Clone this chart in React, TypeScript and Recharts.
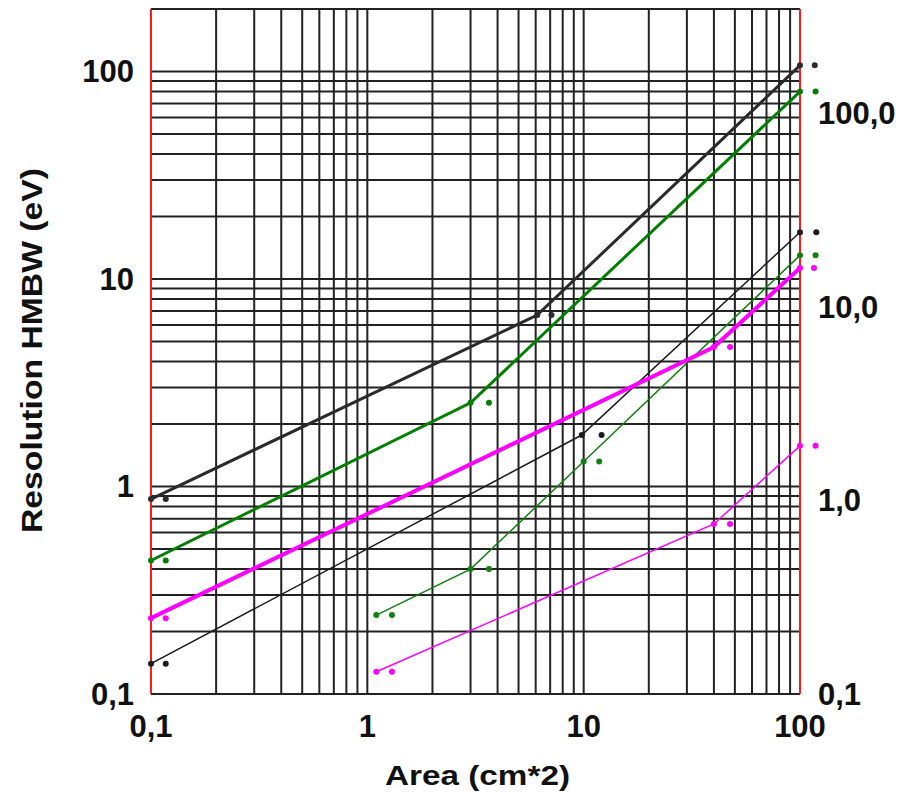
import {
  ComposedChart,
  Line,
  Scatter,
  XAxis,
  YAxis,
  CartesianGrid,
  ReferenceLine,
  Label,
} from 'recharts';

// axis ticks and labels
const xTicks = [0.1, 1, 10, 100];
const xTickLabels = ['0,1', '1', '10', '100'];
const leftTicks = [0.1, 1, 10, 100];
const leftTickLabels = ['0,1', '1', '10', '100'];
const rightTicks = [0.1, 1, 10, 100];
const rightTickLabels = ['0,1', '1,0', '10,0', '100,0'];

// log grid (major + minor lines)
const gridX = [
  0.1, 0.2, 0.3, 0.4, 0.5, 0.6, 0.7, 0.8, 0.9,
  1, 2, 3, 4, 5, 6, 7, 8, 9,
  10, 20, 30, 40, 50, 60, 70, 80, 90, 100,
];
const gridY = [
  0.1, 0.2, 0.3, 0.4, 0.5, 0.6, 0.7, 0.8, 0.9,
  1, 2, 3, 4, 5, 6, 7, 8, 9,
  10, 20, 30, 40, 50, 60, 70, 80, 90, 100, 200,
];

// series: area (cm*2) vs resolution (eV)
const blackThickX = [0.1, 6.1, 100];
const blackThickY = [0.87, 6.7, 107];
const blackThickDotX = [0.117, 7.1, 117];

const greenThickX = [0.1, 3, 100];
const greenThickY = [0.44, 2.53, 80];
const greenThickDotX = [0.117, 3.65, 118];

const magentaThickX = [0.1, 40, 100];
const magentaThickY = [0.232, 4.7, 11.3];
const magentaThickDotX = [0.117, 47.5, 116];

const blackThinX = [0.1, 9.8, 100];
const blackThinY = [0.14, 1.77, 16.8];
const blackThinDotX = [0.117, 12.1, 119];

const greenThinX = [1.1, 3, 10, 100];
const greenThinY = [0.24, 0.4, 1.32, 13];
const greenThinDotX = [1.3, 3.65, 11.8, 118];

const magentaThinX = [1.1, 40, 100];
const magentaThinY = [0.128, 0.66, 1.57];
const magentaThinDotX = [1.3, 47.5, 118];

const series = [
  { name: 'blackThin', xs: blackThinX, ys: blackThinY, dx: blackThinDotX, color: '#1a1a1a', width: 1.5 },
  { name: 'greenThin', xs: greenThinX, ys: greenThinY, dx: greenThinDotX, color: '#108010', width: 1.5 },
  { name: 'magentaThin', xs: magentaThinX, ys: magentaThinY, dx: magentaThinDotX, color: '#ff00ff', width: 1.5 },
  { name: 'blackThick', xs: blackThickX, ys: blackThickY, dx: blackThickDotX, color: '#2a2a2a', width: 3 },
  { name: 'greenThick', xs: greenThickX, ys: greenThickY, dx: greenThickDotX, color: '#008000', width: 3 },
  { name: 'magentaThick', xs: magentaThickX, ys: magentaThickY, dx: magentaThickDotX, color: '#ff00ff', width: 4 },
];

const FONT = '"Liberation Sans", Arial, sans-serif';

function XTick(props: any) {
  const { x, y, payload } = props;
  const label = xTickLabels[xTicks.indexOf(payload.value)];
  return (
    <text x={x} y={y + 43} textAnchor="middle" fontFamily={FONT} fontWeight="bold" fontSize={31} fill="#111">
      {label}
    </text>
  );
}

function LeftTick(props: any) {
  const { x, y, payload } = props;
  const label = leftTickLabels[leftTicks.indexOf(payload.value)];
  return (
    <text x={x - 17} y={y + 11} textAnchor="end" fontFamily={FONT} fontWeight="bold" fontSize={31} fill="#111">
      {label}
    </text>
  );
}

function RightTick(props: any) {
  const { x, y, payload } = props;
  const label = rightTickLabels[rightTicks.indexOf(payload.value)];
  return (
    <text x={x + 18} y={y + 11} textAnchor="start" fontFamily={FONT} fontWeight="bold" fontSize={31} fill="#111">
      {label}
    </text>
  );
}

const dotShape = (color: string) => (p: any) => <circle cx={p.cx} cy={p.cy} r={3} fill={color} />;

export default function App() {
  return (
    <div style={{ width: 904, height: 797, background: '#fff' }}>
      <style>{`
        body { margin: 0; }
        .recharts-surface * { clip-path: none !important; }
      `}</style>
      <ComposedChart width={904} height={797} margin={{ top: 9, right: 4, bottom: 43, left: 51 }}>
        <CartesianGrid
          horizontalValues={gridY}
          verticalValues={gridX}
          stroke="#222"
          strokeWidth={2}
          strokeDasharray=""
        />
        <XAxis
          type="number"
          dataKey="x"
          scale="log"
          domain={[0.1, 100]}
          allowDataOverflow
          ticks={xTicks}
          interval={0}
          axisLine={false}
          tickLine={false}
          tickSize={0}
          tickMargin={0}
          height={60}
          tick={<XTick />}
        >
          <Label
            content={(p: any) => {
              const vb = p.viewBox;
              return (
                <text
                  x={vb.x + vb.width / 2 + 2}
                  y={vb.y + 91}
                  textAnchor="middle"
                  fontFamily={FONT}
                  fontWeight="bold"
                  fontSize={28}
                  fill="#111"
                  textLength={185}
                  lengthAdjust="spacingAndGlyphs"
                >
                  Area (cm*2)
                </text>
              );
            }}
          />
        </XAxis>
        <YAxis
          type="number"
          dataKey="y"
          scale="log"
          domain={[0.1, 200]}
          allowDataOverflow
          ticks={leftTicks}
          interval={0}
          axisLine={false}
          tickLine={false}
          tickSize={0}
          tickMargin={0}
          width={100}
          tick={<LeftTick />}
        >
          <Label
            content={(p: any) => {
              const vb = p.viewBox;
              const cy = vb.y + vb.height / 2 - 1;
              return (
                <text
                  x={42}
                  y={cy}
                  transform={`rotate(-90, 42, ${cy})`}
                  textAnchor="middle"
                  fontFamily={FONT}
                  fontWeight="bold"
                  fontSize={30}
                  fill="#111"
                  textLength={365}
                  lengthAdjust="spacingAndGlyphs"
                >
                  Resolution HMBW (eV)
                </text>
              );
            }}
          />
        </YAxis>
        <YAxis
          yAxisId="right"
          orientation="right"
          type="number"
          scale="log"
          domain={[0.1, 345]}
          allowDataOverflow
          ticks={rightTicks}
          interval={0}
          axisLine={false}
          tickLine={false}
          tickSize={0}
          tickMargin={0}
          width={100}
          tick={<RightTick />}
        />
        <ReferenceLine x={0.1} stroke="#ff1a1a" strokeWidth={2} />
        <ReferenceLine x={100} stroke="#ff1a1a" strokeWidth={2} />
        {series.map((s) => (
          <Line
            key={s.name}
            data={s.xs.map((x, i) => ({ x, y: s.ys[i] }))}
            dataKey="y"
            type="linear"
            stroke={s.color}
            strokeWidth={s.width}
            dot={false}
            activeDot={false}
            isAnimationActive={false}
          />
        ))}
        {series.map((s) => (
          <Scatter
            key={s.name + '-pts'}
            data={s.xs.map((x, i) => ({ x, y: s.ys[i] }))}
            dataKey="y"
            shape={dotShape(s.color)}
            isAnimationActive={false}
          />
        ))}
        {series.map((s) => (
          <Scatter
            key={s.name + '-shift'}
            data={s.dx.map((x, i) => ({ x, y: s.ys[i] }))}
            dataKey="y"
            shape={dotShape(s.color)}
            isAnimationActive={false}
          />
        ))}
      </ComposedChart>
    </div>
  );
}
